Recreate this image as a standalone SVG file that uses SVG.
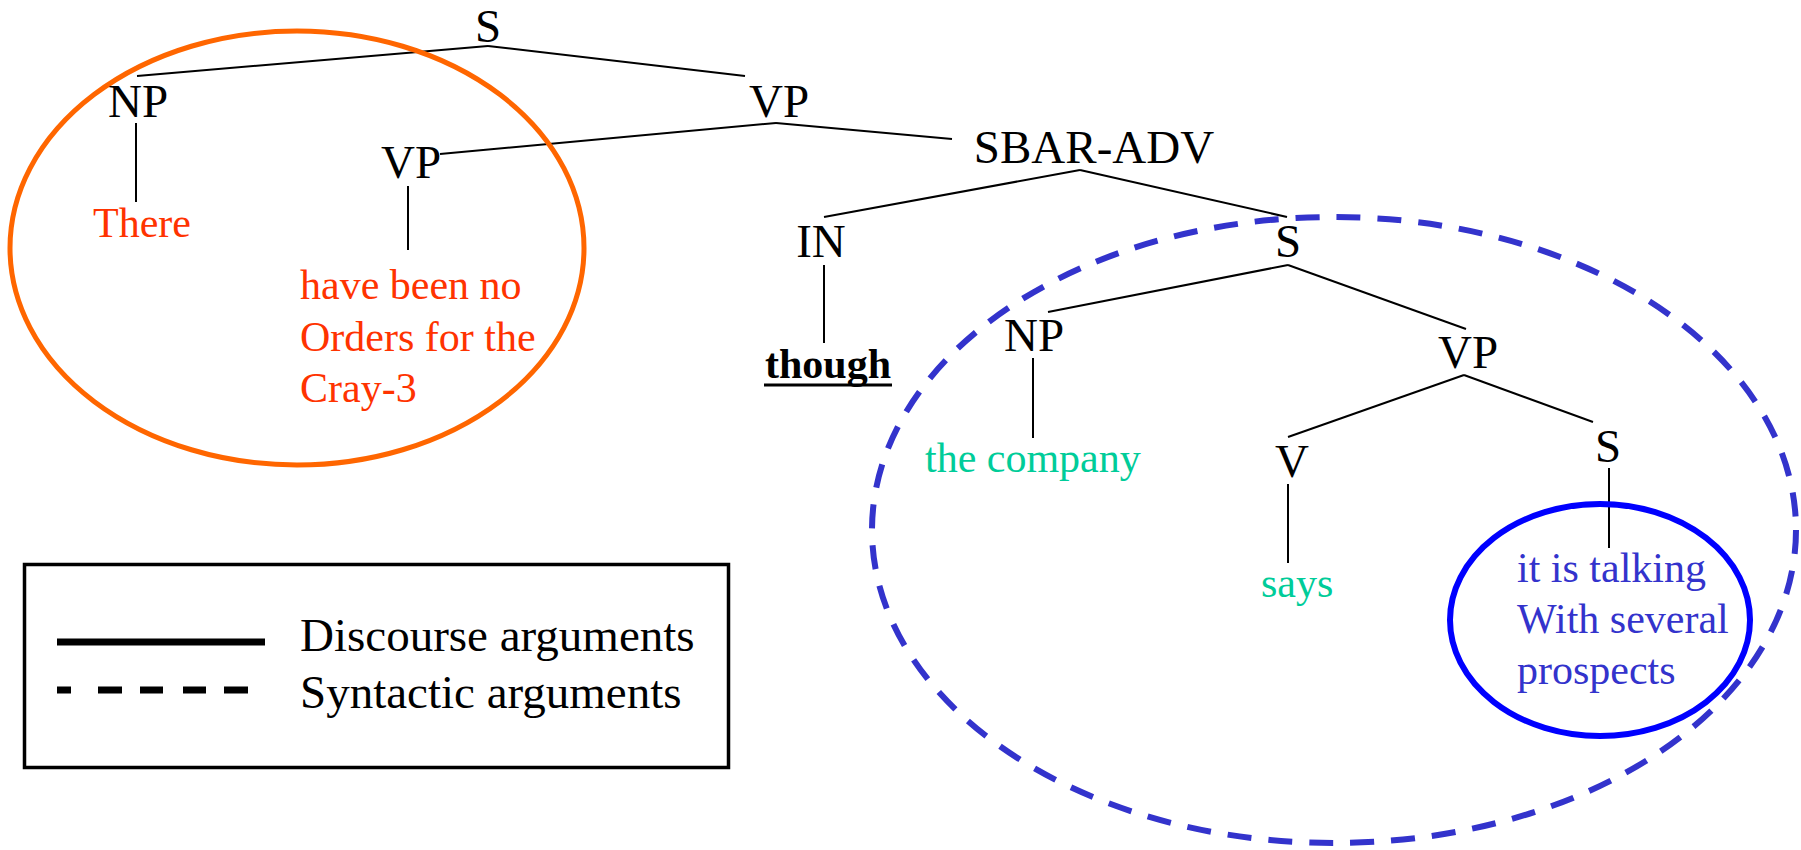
<svg xmlns="http://www.w3.org/2000/svg" width="1801" height="850" viewBox="0 0 1801 850">
<style>
text{font-family:"Liberation Serif","Times New Roman",serif}
.lbl{font-size:47px;fill:#000;text-anchor:middle}
.leaf{font-size:42px}
.red{fill:#FF3300}
.teal{fill:#00CC99}
.blu{fill:#3333CC}
.edge{stroke:#000;stroke-width:2;fill:none}
.leg{font-size:47px;fill:#000}
</style>
<rect width="1801" height="850" fill="#fff"/>
<g id="connectors">
<line class="edge" x1="488" y1="46" x2="137" y2="76"/>
<line class="edge" x1="488" y1="46" x2="745" y2="76"/>
<line class="edge" x1="136" y1="123" x2="136" y2="202"/>
<line class="edge" x1="776" y1="123" x2="440" y2="154"/>
<line class="edge" x1="776" y1="123" x2="952" y2="139"/>
<line class="edge" x1="408" y1="186" x2="408" y2="250"/>
<line class="edge" x1="1080" y1="170" x2="824" y2="217"/>
<line class="edge" x1="1080" y1="170" x2="1287" y2="217"/>
<line class="edge" x1="824" y1="265" x2="824" y2="343"/>
<line class="edge" x1="1288" y1="265" x2="1048" y2="312"/>
<line class="edge" x1="1288" y1="265" x2="1466" y2="329"/>
<line class="edge" x1="1033" y1="358" x2="1033" y2="438"/>
<line class="edge" x1="1464" y1="375" x2="1288" y2="437"/>
<line class="edge" x1="1464" y1="375" x2="1593" y2="422"/>
<line class="edge" x1="1288" y1="484" x2="1288" y2="563"/>
<line class="edge" x1="1609" y1="468" x2="1609" y2="548"/>
</g>
<g id="groupings">
<ellipse id="discourse-arg1" cx="297" cy="248" rx="287" ry="217" fill="none" stroke="#FF6600" stroke-width="5"/>
<ellipse id="syntactic-arg" cx="1334" cy="530" rx="462" ry="313" fill="none" stroke="#3333CC" stroke-width="6" stroke-dasharray="24 17"/>
<ellipse id="discourse-arg2" cx="1600" cy="620" rx="150" ry="116" fill="none" stroke="#0000FF" stroke-width="6"/>
</g>
<g id="n-S-top"><text class="lbl" x="488" y="42">S</text></g>
<g id="n-NP1"><text class="lbl" x="138" y="117">NP</text></g>
<g id="n-VP1"><text class="lbl" x="779" y="117">VP</text></g>
<g id="n-VP2"><text class="lbl" x="411" y="178">VP</text></g>
<g id="n-SBAR"><text class="lbl" x="1094" y="163">SBAR-ADV</text></g>
<g id="n-IN"><text class="lbl" x="821" y="257">IN</text></g>
<g id="n-S-mid"><text class="lbl" x="1288" y="257">S</text></g>
<g id="n-NP2"><text class="lbl" x="1034" y="351">NP</text></g>
<g id="n-VP3"><text class="lbl" x="1468" y="368">VP</text></g>
<g id="n-V"><text class="lbl" x="1292" y="477">V</text></g>
<g id="n-S-right"><text class="lbl" x="1608" y="462">S</text></g>
<g id="leaf-there"><text class="leaf red" x="93" y="237">There</text></g>
<g id="leaf-orders"><text class="leaf red" x="300" y="299">have been no</text><text class="leaf red" x="300" y="351">Orders for the</text><text class="leaf red" x="300" y="402">Cray-3</text></g>
<g id="leaf-though"><text x="828" y="378" font-size="42" font-weight="bold" text-anchor="middle">though</text><line x1="764" y1="385" x2="892" y2="385" stroke="#000" stroke-width="3"/></g>
<g id="leaf-company"><text class="leaf teal" x="925" y="472">the company</text></g>
<g id="leaf-says"><text class="leaf teal" x="1261" y="597">says</text></g>
<g id="leaf-talking"><text class="leaf blu" x="1517" y="582">it is talking</text><text class="leaf blu" x="1517" y="633">With several</text><text class="leaf blu" x="1517" y="684">prospects</text></g>
<g id="legend">
<rect x="24.5" y="564.5" width="704" height="203" fill="none" stroke="#000" stroke-width="3.5"/>
<line x1="57" y1="642" x2="265" y2="642" stroke="#000" stroke-width="7"/>
<line x1="57" y1="690" x2="248" y2="690" stroke="#000" stroke-width="7" stroke-dasharray="14 27 24 18 23 20 23 18 24"/>
<text class="leg" x="300" y="651">Discourse arguments</text>
<text class="leg" x="300" y="708">Syntactic arguments</text>
</g>
</svg>
